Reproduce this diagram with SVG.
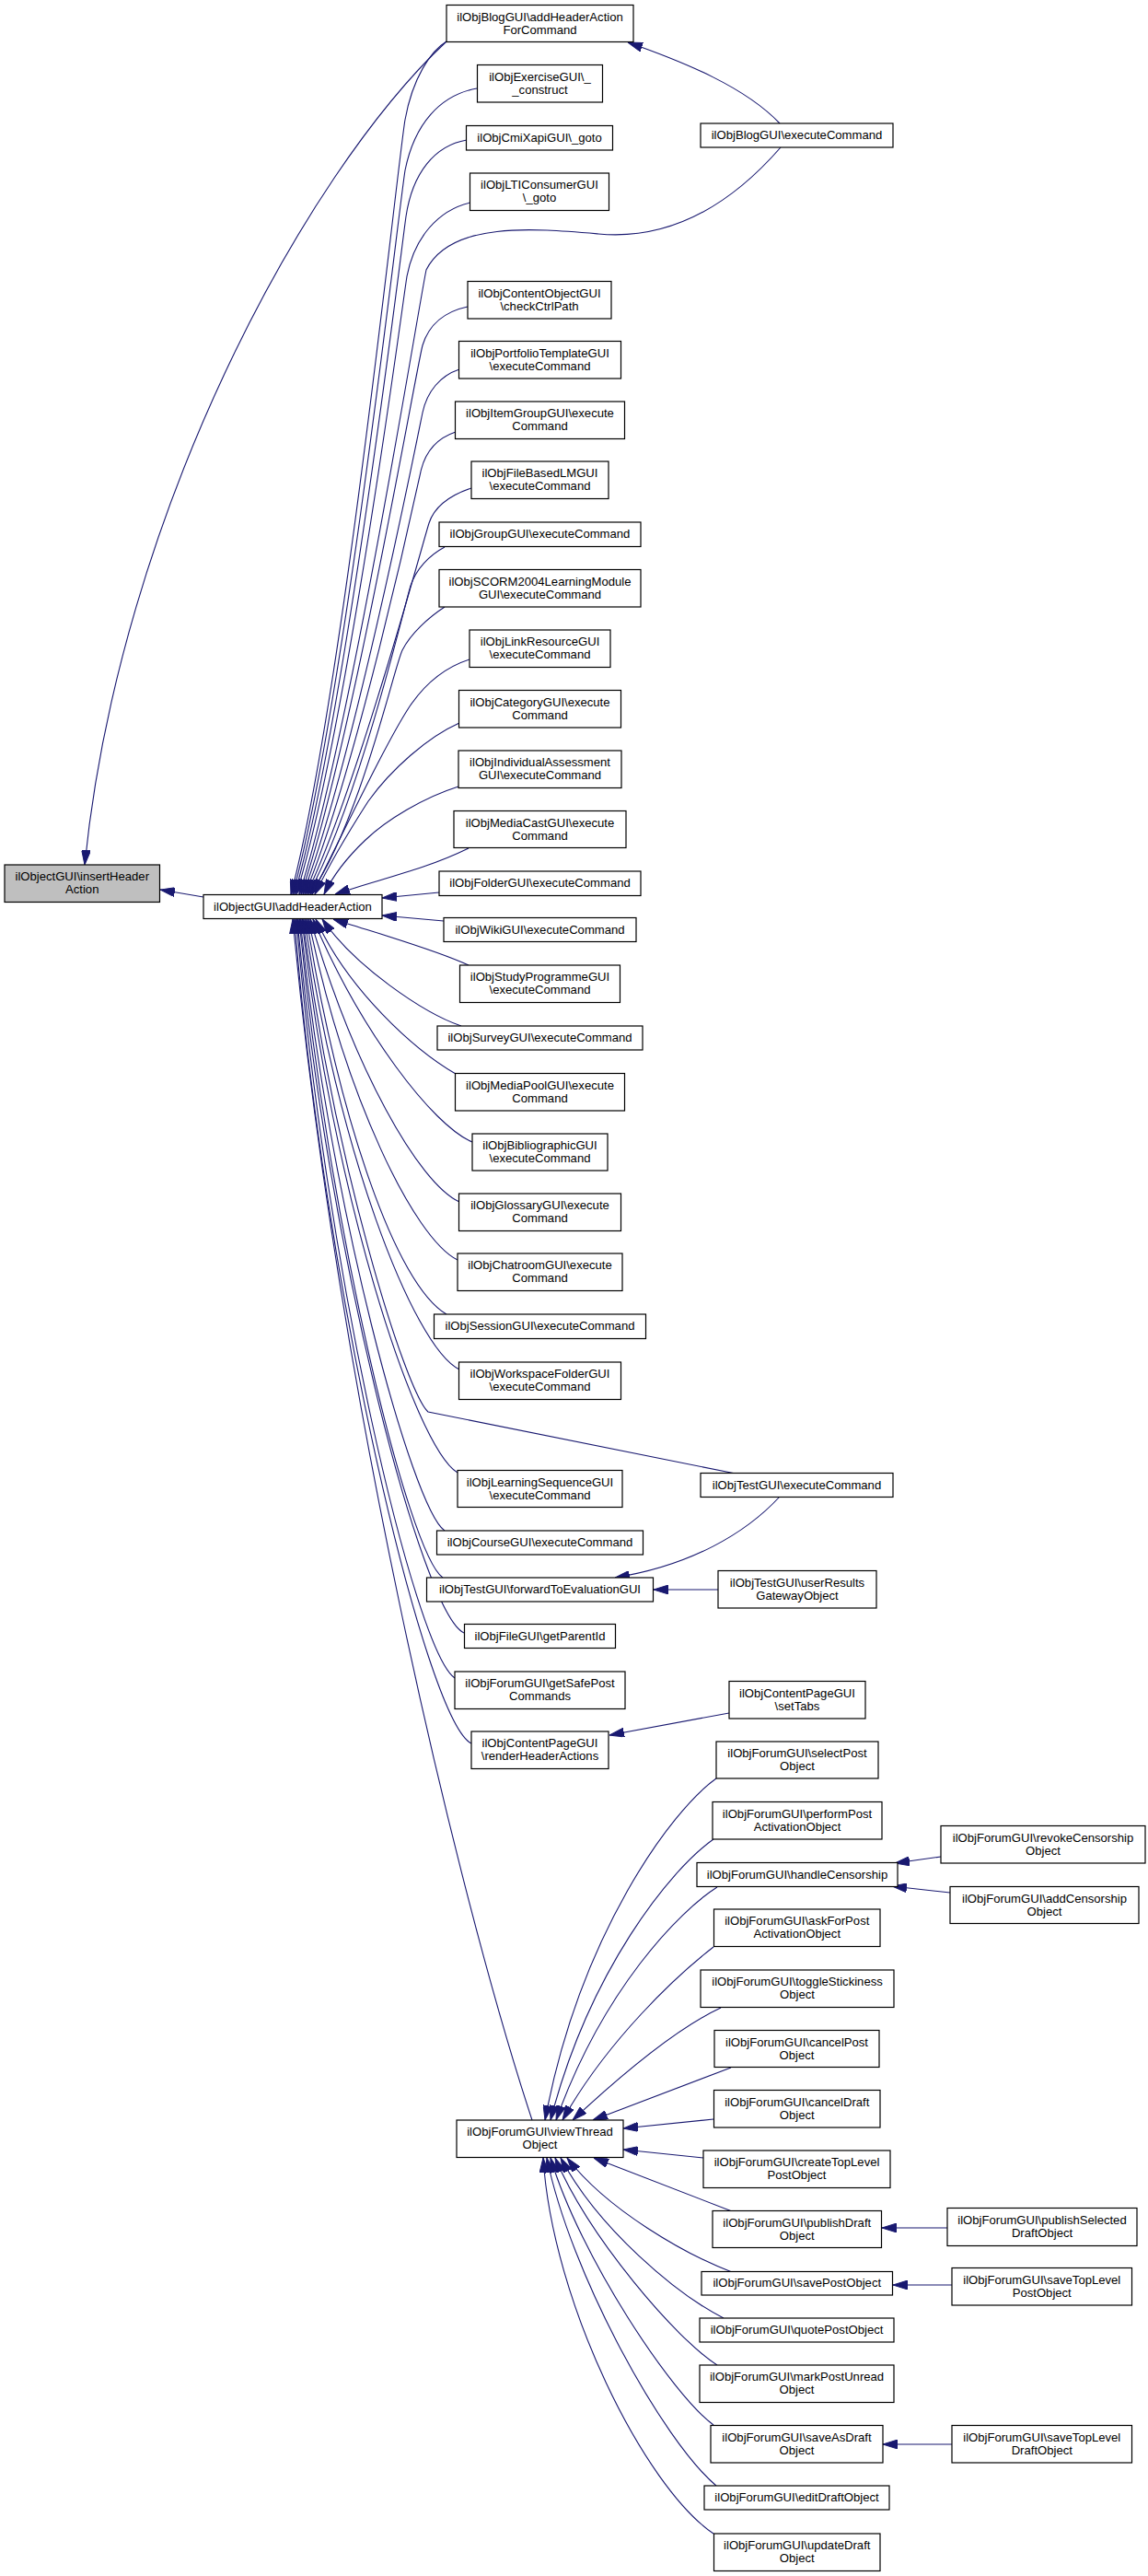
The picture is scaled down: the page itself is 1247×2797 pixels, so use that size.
<svg xmlns="http://www.w3.org/2000/svg" width="1247" height="2797" viewBox="0 0 1247 2797">
<defs>
<style>
.node rect{fill:#ffffff;stroke:#000000;stroke-width:1.2}
.node.root rect{fill:#bfbfbf}
.node text{font-family:"Liberation Sans",Arial,Helvetica,sans-serif;font-size:13.1px;fill:#000000;text-anchor:middle}
.edges path{fill:none;stroke:#191970;stroke-width:1.1;marker-end:url(#arr)}
</style>
<marker id="arr" markerUnits="userSpaceOnUse" markerWidth="16" markerHeight="10" viewBox="0 0 16 10" refX="16" refY="5" orient="auto">
<path d="M0,0 L16,5 L0,10 z" fill="#191970" stroke="#191970" stroke-width="1"/>
</marker>
</defs>
<rect x="0" y="0" width="1247" height="2797" fill="#ffffff"/>
<g class="edges" id="edges">
<path d="M485,45 C330,190 130,560 92,939"/>
<path d="M221,974 L174,966"/>
<path d="M847,134 C810,95 745,68 682,46"/>
<path d="M485,45 C468,55 448,85 440,130 C432,175 372,760 316,971"/>
<path d="M518,96 C478,103 450,135 440,185 C432,235 374,765 318,971"/>
<path d="M507,152 C472,158 448,188 441,235 C434,285 376,775 320,971"/>
<path d="M511,220 C476,228 450,258 442,300 C435,345 378,785 322,971"/>
<path d="M848,160 C800,215 735,262 650,254 C580,248 490,240 463,293 C455,330 380,800 325,971"/>
<path d="M508,333 C484,338 466,352 459,375 C452,400 382,810 327,971"/>
<path d="M499,401 C478,408 464,425 459,448 C454,472 384,825 329,971"/>
<path d="M495,469 C474,476 462,490 457,512 C452,535 386,840 331,971"/>
<path d="M512,530 C488,538 472,550 466,568 C459,590 388,855 333,971"/>
<path d="M483,594 C466,603 452,618 446,636 C440,655 390,870 335,971"/>
<path d="M483,659 C466,670 446,688 437,706 C428,724 392,890 337,971"/>
<path d="M510,716 C485,724 462,742 445,767 C420,805 375,900 339,971"/>
<path d="M499,785 C465,800 425,835 400,870 C382,898 358,938 342,971"/>
<path d="M498,854 C460,866 420,890 397,912 C378,930 362,950 352,971"/>
<path d="M509,921 C460,945 410,955 364,971"/>
<path d="M477,969 L415,975"/>
<path d="M482,1000 L415,994"/>
<path d="M509,1048 C470,1030 405,1012 362,998"/>
<path d="M501,1114 C460,1100 385,1049 350,998"/>
<path d="M495,1166 C450,1140 378,1075 343,998"/>
<path d="M513,1240 C470,1222 392,1120 340,998"/>
<path d="M499,1305 C455,1285 384,1160 337,998"/>
<path d="M497,1368 C450,1345 374,1190 335,998"/>
<path d="M485,1427 C430,1395 368,1215 333,998"/>
<path d="M499,1487 C448,1462 364,1240 331,998"/>
<path d="M799,1600 L465,1533 C440,1510 362,1260 329,998"/>
<path d="M497,1599 C450,1570 360,1290 328,998"/>
<path d="M483,1662 C448,1638 358,1310 326,998"/>
<path d="M481,1713 C444,1688 356,1330 325,998"/>
<path d="M504,1773 C458,1752 354,1350 323,998"/>
<path d="M494,1822 C450,1792 352,1370 322,998"/>
<path d="M512,1893 C462,1868 350,1390 320,998"/>
<path d="M578,2302 C495,2050 365,1500 318,998"/>
<path d="M847,1625 C810,1665 750,1700 668,1713"/>
<path d="M780,1726 L710,1726"/>
<path d="M792,1860 L662,1884"/>
<path d="M778,1931 C730,1965 630,2100 592,2302"/>
<path d="M775,1997 C728,2030 640,2140 598,2302"/>
<path d="M779,2049 C738,2075 655,2160 604,2302"/>
<path d="M775,2114 C735,2145 660,2215 611,2302"/>
<path d="M783,2180 C740,2200 680,2248 622,2302"/>
<path d="M794,2245 L644,2302"/>
<path d="M775,2301 L677,2311"/>
<path d="M764,2343 L677,2334"/>
<path d="M795,2401 L645,2343"/>
<path d="M795,2467 C745,2448 660,2400 616,2343"/>
<path d="M786,2517 C735,2491 650,2420 609,2343"/>
<path d="M779,2568 C735,2540 640,2430 603,2343"/>
<path d="M775,2633 C730,2600 630,2450 598,2343"/>
<path d="M778,2699 C720,2650 620,2470 594,2343"/>
<path d="M775,2751 C700,2700 600,2500 590,2343"/>
<path d="M1022,2016 L972,2023"/>
<path d="M1032,2055 L969,2048"/>
<path d="M1029,2419 L958,2419"/>
<path d="M1034,2481 L970,2481"/>
<path d="M1034,2654 L959,2654"/>
</g>
<g id="n_insertHeaderAction" class="node root"><rect x="5" y="939" width="168.5" height="40.5"/><text x="89.25" y="956">ilObjectGUI\insertHeader</text><text x="89.25" y="970.3">Action</text></g>
<g id="n_addHeaderAction" class="node"><rect x="221" y="971.5" width="194" height="26"/><text x="318" y="988.5">ilObjectGUI\addHeaderAction</text></g>
<g id="n_blogAddHeaderActionForCommand" class="node"><rect x="485" y="5.5" width="203" height="40"/><text x="586.5" y="22.5">ilObjBlogGUI\addHeaderAction</text><text x="586.5" y="36.8">ForCommand</text></g>
<g id="n_exerciseConstruct" class="node"><rect x="518.5" y="70.5" width="136" height="40.5"/><text x="586.5" y="87.5">ilObjExerciseGUI\_</text><text x="586.5" y="101.8">_construct</text></g>
<g id="n_cmiXapiGoto" class="node"><rect x="506.5" y="136.5" width="159" height="26.5"/><text x="586" y="153.7">ilObjCmiXapiGUI\_goto</text></g>
<g id="n_ltiGoto" class="node"><rect x="510.5" y="188" width="151" height="40.5"/><text x="586" y="205">ilObjLTIConsumerGUI</text><text x="586" y="219.3">\_goto</text></g>
<g id="n_blogExecuteCommand" class="node"><rect x="761" y="134" width="209" height="26"/><text x="865.5" y="151">ilObjBlogGUI\executeCommand</text></g>
<g id="n_contentObjectCheckCtrlPath" class="node"><rect x="508" y="305.5" width="156" height="40.5"/><text x="586" y="322.5">ilObjContentObjectGUI</text><text x="586" y="336.8">\checkCtrlPath</text></g>
<g id="n_portfolioTemplate" class="node"><rect x="498.5" y="370.5" width="176" height="40.5"/><text x="586.5" y="387.5">ilObjPortfolioTemplateGUI</text><text x="586.5" y="401.8">\executeCommand</text></g>
<g id="n_itemGroup" class="node"><rect x="494.5" y="436" width="184" height="40.5"/><text x="586.5" y="453">ilObjItemGroupGUI\execute</text><text x="586.5" y="467.3">Command</text></g>
<g id="n_fileBasedLM" class="node"><rect x="512" y="501" width="149" height="40.5"/><text x="586.5" y="518">ilObjFileBasedLMGUI</text><text x="586.5" y="532.3">\executeCommand</text></g>
<g id="n_group" class="node"><rect x="477" y="567" width="219" height="26.5"/><text x="586.5" y="584.2">ilObjGroupGUI\executeCommand</text></g>
<g id="n_scorm" class="node"><rect x="477" y="618.5" width="219" height="40.5"/><text x="586.5" y="635.5">ilObjSCORM2004LearningModule</text><text x="586.5" y="649.8">GUI\executeCommand</text></g>
<g id="n_linkResource" class="node"><rect x="510" y="684" width="153" height="40.5"/><text x="586.5" y="701">ilObjLinkResourceGUI</text><text x="586.5" y="715.3">\executeCommand</text></g>
<g id="n_category" class="node"><rect x="498.5" y="749.5" width="176" height="40.5"/><text x="586.5" y="766.5">ilObjCategoryGUI\execute</text><text x="586.5" y="780.8">Command</text></g>
<g id="n_individualAssessment" class="node"><rect x="498" y="815" width="177" height="40.5"/><text x="586.5" y="832">ilObjIndividualAssessment</text><text x="586.5" y="846.3">GUI\executeCommand</text></g>
<g id="n_mediaCast" class="node"><rect x="493" y="880.5" width="187" height="40"/><text x="586.5" y="897.5">ilObjMediaCastGUI\execute</text><text x="586.5" y="911.8">Command</text></g>
<g id="n_folder" class="node"><rect x="477" y="946" width="219" height="26.5"/><text x="586.5" y="963.2">ilObjFolderGUI\executeCommand</text></g>
<g id="n_wiki" class="node"><rect x="482" y="996.5" width="209" height="26"/><text x="586.5" y="1013.5">ilObjWikiGUI\executeCommand</text></g>
<g id="n_studyProgramme" class="node"><rect x="499.5" y="1048" width="174" height="40.5"/><text x="586.5" y="1065">ilObjStudyProgrammeGUI</text><text x="586.5" y="1079.3">\executeCommand</text></g>
<g id="n_survey" class="node"><rect x="475" y="1114" width="223" height="26"/><text x="586.5" y="1131">ilObjSurveyGUI\executeCommand</text></g>
<g id="n_mediaPool" class="node"><rect x="494.5" y="1165.5" width="184" height="40.5"/><text x="586.5" y="1182.5">ilObjMediaPoolGUI\execute</text><text x="586.5" y="1196.8">Command</text></g>
<g id="n_bibliographic" class="node"><rect x="513" y="1231" width="147" height="40"/><text x="586.5" y="1248">ilObjBibliographicGUI</text><text x="586.5" y="1262.3">\executeCommand</text></g>
<g id="n_glossary" class="node"><rect x="498.5" y="1296" width="176" height="40.5"/><text x="586.5" y="1313">ilObjGlossaryGUI\execute</text><text x="586.5" y="1327.3">Command</text></g>
<g id="n_chatroom" class="node"><rect x="497" y="1361" width="179" height="40.5"/><text x="586.5" y="1378">ilObjChatroomGUI\execute</text><text x="586.5" y="1392.3">Command</text></g>
<g id="n_session" class="node"><rect x="471.5" y="1427" width="230" height="26.5"/><text x="586.5" y="1444.2">ilObjSessionGUI\executeCommand</text></g>
<g id="n_workspaceFolder" class="node"><rect x="498.5" y="1479" width="176" height="40.5"/><text x="586.5" y="1496">ilObjWorkspaceFolderGUI</text><text x="586.5" y="1510.3">\executeCommand</text></g>
<g id="n_testExecuteCommand" class="node"><rect x="761" y="1599.5" width="209" height="26"/><text x="865.5" y="1616.5">ilObjTestGUI\executeCommand</text></g>
<g id="n_learningSequence" class="node"><rect x="497" y="1596.5" width="179" height="40"/><text x="586.5" y="1613.5">ilObjLearningSequenceGUI</text><text x="586.5" y="1627.8">\executeCommand</text></g>
<g id="n_course" class="node"><rect x="474.5" y="1662" width="224" height="26"/><text x="586.5" y="1679">ilObjCourseGUI\executeCommand</text></g>
<g id="n_forwardToEvaluationGUI" class="node"><rect x="463.5" y="1713" width="246" height="26"/><text x="586.5" y="1730">ilObjTestGUI\forwardToEvaluationGUI</text></g>
<g id="n_userResultsGateway" class="node"><rect x="780" y="1705.5" width="172" height="40.5"/><text x="866" y="1722.5">ilObjTestGUI\userResults</text><text x="866" y="1736.8">GatewayObject</text></g>
<g id="n_fileGetParentId" class="node"><rect x="504.5" y="1763.5" width="164" height="26"/><text x="586.5" y="1780.5">ilObjFileGUI\getParentId</text></g>
<g id="n_getSafePostCommands" class="node"><rect x="494" y="1815" width="185" height="40.5"/><text x="586.5" y="1832">ilObjForumGUI\getSafePost</text><text x="586.5" y="1846.3">Commands</text></g>
<g id="n_setTabs" class="node"><rect x="792" y="1825.5" width="148" height="40.5"/><text x="866" y="1842.5">ilObjContentPageGUI</text><text x="866" y="1856.8">\setTabs</text></g>
<g id="n_renderHeaderActions" class="node"><rect x="512" y="1880" width="149" height="40.5"/><text x="586.5" y="1897">ilObjContentPageGUI</text><text x="586.5" y="1911.3">\renderHeaderActions</text></g>
<g id="n_selectPost" class="node"><rect x="778" y="1891" width="176" height="40"/><text x="866" y="1908">ilObjForumGUI\selectPost</text><text x="866" y="1922.3">Object</text></g>
<g id="n_performPostActivation" class="node"><rect x="774" y="1956.5" width="184" height="40.5"/><text x="866" y="1973.5">ilObjForumGUI\performPost</text><text x="866" y="1987.8">ActivationObject</text></g>
<g id="n_revokeCensorship" class="node"><rect x="1022" y="1982.5" width="222" height="40.5"/><text x="1133" y="1999.5">ilObjForumGUI\revokeCensorship</text><text x="1133" y="2013.8">Object</text></g>
<g id="n_handleCensorship" class="node"><rect x="757" y="2022.5" width="218" height="26"/><text x="866" y="2039.5">ilObjForumGUI\handleCensorship</text></g>
<g id="n_addCensorship" class="node"><rect x="1032" y="2048.5" width="205" height="40"/><text x="1134.5" y="2065.5">ilObjForumGUI\addCensorship</text><text x="1134.5" y="2079.8">Object</text></g>
<g id="n_askForPostActivation" class="node"><rect x="775.5" y="2073" width="180.5" height="40.5"/><text x="865.75" y="2090">ilObjForumGUI\askForPost</text><text x="865.75" y="2104.3">ActivationObject</text></g>
<g id="n_toggleStickiness" class="node"><rect x="761" y="2139" width="210" height="40.5"/><text x="866" y="2156">ilObjForumGUI\toggleStickiness</text><text x="866" y="2170.3">Object</text></g>
<g id="n_cancelPost" class="node"><rect x="776" y="2204.5" width="179" height="40"/><text x="865.5" y="2221.5">ilObjForumGUI\cancelPost</text><text x="865.5" y="2235.8">Object</text></g>
<g id="n_cancelDraft" class="node"><rect x="775.5" y="2269.5" width="180.5" height="40.5"/><text x="865.75" y="2286.5">ilObjForumGUI\cancelDraft</text><text x="865.75" y="2300.8">Object</text></g>
<g id="n_viewThread" class="node"><rect x="496" y="2302" width="181" height="40.5"/><text x="586.5" y="2319">ilObjForumGUI\viewThread</text><text x="586.5" y="2333.3">Object</text></g>
<g id="n_createTopLevelPost" class="node"><rect x="764" y="2335" width="203" height="40.5"/><text x="865.5" y="2352">ilObjForumGUI\createTopLevel</text><text x="865.5" y="2366.3">PostObject</text></g>
<g id="n_publishDraft" class="node"><rect x="774" y="2400.5" width="183.5" height="40"/><text x="865.75" y="2417.5">ilObjForumGUI\publishDraft</text><text x="865.75" y="2431.8">Object</text></g>
<g id="n_publishSelectedDraft" class="node"><rect x="1029" y="2397.5" width="206" height="41"/><text x="1132" y="2414.5">ilObjForumGUI\publishSelected</text><text x="1132" y="2428.8">DraftObject</text></g>
<g id="n_savePost" class="node"><rect x="762" y="2466.5" width="207.5" height="25.5"/><text x="865.75" y="2483.3">ilObjForumGUI\savePostObject</text></g>
<g id="n_saveTopLevelPost" class="node"><rect x="1034" y="2462.5" width="195.5" height="40.5"/><text x="1131.75" y="2479.5">ilObjForumGUI\saveTopLevel</text><text x="1131.75" y="2493.8">PostObject</text></g>
<g id="n_quotePost" class="node"><rect x="760" y="2517" width="211" height="26"/><text x="865.5" y="2534">ilObjForumGUI\quotePostObject</text></g>
<g id="n_markPostUnread" class="node"><rect x="760" y="2568" width="211" height="40.5"/><text x="865.5" y="2585">ilObjForumGUI\markPostUnread</text><text x="865.5" y="2599.3">Object</text></g>
<g id="n_saveAsDraft" class="node"><rect x="772" y="2633.5" width="187" height="40.5"/><text x="865.5" y="2650.5">ilObjForumGUI\saveAsDraft</text><text x="865.5" y="2664.8">Object</text></g>
<g id="n_saveTopLevelDraft" class="node"><rect x="1034" y="2633.5" width="195.5" height="40.5"/><text x="1131.75" y="2650.5">ilObjForumGUI\saveTopLevel</text><text x="1131.75" y="2664.8">DraftObject</text></g>
<g id="n_editDraft" class="node"><rect x="765" y="2699" width="201" height="26"/><text x="865.5" y="2716">ilObjForumGUI\editDraftObject</text></g>
<g id="n_updateDraft" class="node"><rect x="775.5" y="2751" width="180.5" height="40.5"/><text x="865.75" y="2768">ilObjForumGUI\updateDraft</text><text x="865.75" y="2782.3">Object</text></g>
</svg>
